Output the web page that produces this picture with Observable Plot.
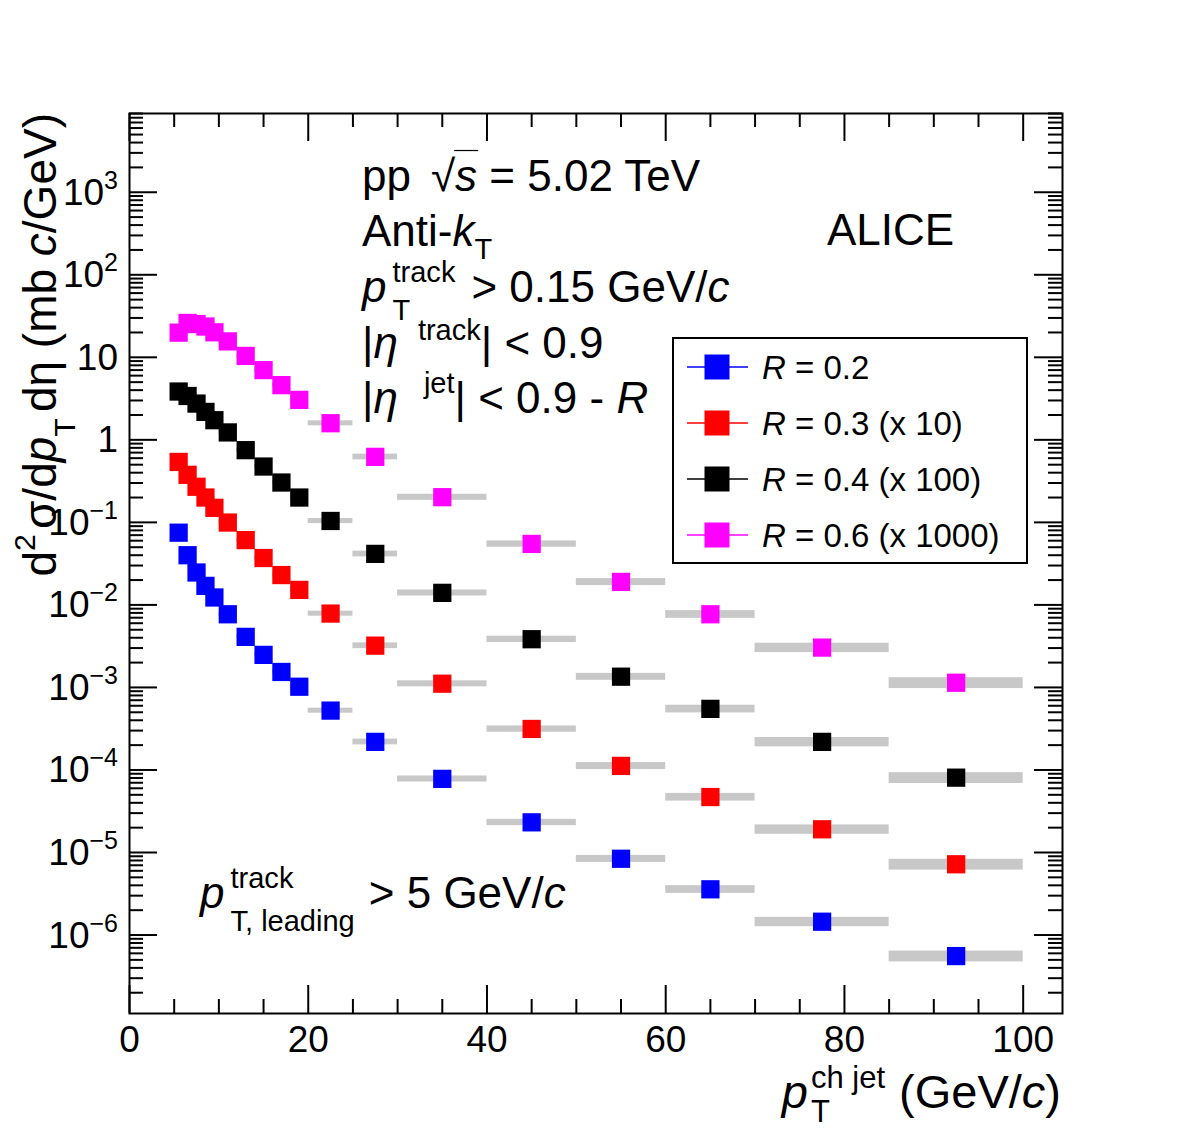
<!DOCTYPE html>
<html>
<head>
<meta charset="utf-8">
<script src="https://cdn.jsdelivr.net/npm/d3@7"></script>
<script src="https://cdn.jsdelivr.net/npm/@observablehq/plot@0.6"></script>
<style>
  body { margin: 0; background: #fff; }
  svg text { font-family: "Liberation Sans", Arial, Helvetica, sans-serif; }
</style>
</head>
<body>
<div id="chart"></div>
<script>
// Charged-jet cross sections, pp at 5.02 TeV, for several jet radii.
// Values are as drawn (R = 0.3 scaled x10, R = 0.4 x100, R = 0.6 x1000).
const binLo = [5, 6, 7, 8, 9, 10, 12, 14, 16, 18, 20, 25, 30, 40, 50, 60, 70, 85];
const binHi = [6, 7, 8, 9, 10, 12, 14, 16, 18, 20, 25, 30, 40, 50, 60, 70, 85, 100];
// relative systematic uncertainty (grey boxes)
const sysRel = [0.06, 0.06, 0.06, 0.06, 0.06, 0.06, 0.06, 0.06, 0.06, 0.06, 0.07, 0.08, 0.084, 0.088, 0.097, 0.107, 0.13, 0.15];

const seriesNames = ["R = 0.2", "R = 0.3 (x 10)", "R = 0.4 (x 100)", "R = 0.6 (x 1000)"];
const seriesColors = ["#0000ff", "#ff0000", "#000000", "#ff00ff"];
const r02 = [0.075, 0.040, 0.0247, 0.017, 0.0123, 0.0077, 0.0041, 0.00248, 0.00154, 0.00102, 0.000524, 0.000219, 7.8e-5, 2.32e-5, 8.4e-6, 3.58e-6, 1.45e-6, 5.56e-7];
const r03 = [0.54, 0.377, 0.27, 0.20, 0.15, 0.0995, 0.061, 0.037, 0.023, 0.0152, 0.00785, 0.00321, 0.00111, 0.000314, 0.000112, 4.7e-5, 1.91e-5, 7.2e-6];
const r04 = [3.85, 3.4, 2.75, 2.18, 1.73, 1.23, 0.75, 0.475, 0.304, 0.20, 0.104, 0.0415, 0.014, 0.00384, 0.00135, 0.00055, 0.000219, 8.07e-5];
const r06 = [19.9, 26.1, 25.3, 23.6, 20.1, 15.6, 10.4, 7.0, 4.6, 3.05, 1.59, 0.622, 0.202, 0.0548, 0.019, 0.0077, 0.00304, 0.00114];

const xMajorTicks = [0, 20, 40, 60, 80, 100];
const xMinorTicks = d3.range(5, 100, 5).filter(v => v % 20 !== 0);
const yDecades = d3.range(-7, 4);

// layout
const W = 1182, H = 1128;
const mL = 129, mR = 120, mT = 113, mB = 115;
const plotW = W - mL - mR, plotH = H - mT - mB;
const yDomain = [1.12e-7, 9.0e3];
const yMajorTicks = yDecades.map(k => 10 ** k).filter(v => v >= yDomain[0] && v <= yDomain[1]);
const yMinorTicks = yDecades.flatMap(k => d3.range(2, 10).map(m => m * 10 ** k)).filter(v => v >= yDomain[0] && v <= yDomain[1]);

// tidy table
const allSeries = [r02, r03, r04, r06];
const rows = allSeries.flatMap((vals, s) => vals.map((v, i) => ({
  series: seriesNames[s], lo: binLo[i], hi: binHi[i], x: (binLo[i] + binHi[i]) / 2,
  y: v, ylo: v * (1 - sysRel[i]), yhi: v * (1 + sysRel[i])
})));

const majorLen = 28, minorLen = 14;
const tickStyle = {stroke: "black", strokeWidth: 2};

const plot = Plot.plot({
  width: W, height: H,
  marginLeft: mL, marginRight: mR, marginTop: mT, marginBottom: mB,
  style: {fontFamily: "Liberation Sans, Arial, sans-serif", fontSize: "37px", background: "white", color: "black"},
  x: {domain: [0, 104.4], axis: null},
  y: {type: "log", domain: yDomain, axis: null},
  color: {domain: seriesNames, range: seriesColors},
  marks: [
    // systematic boxes
    Plot.rect(rows, {x1: "lo", x2: "hi", y1: "ylo", y2: "yhi", fill: "#c8c8c8"}),
    // data points
    Plot.dot(rows, {x: "x", y: "y", symbol: "square", r: 10.3, fill: "series", stroke: null}),
    // inward ticks on all four sides
    Plot.ruleX(xMajorTicks, {x: d => d, insetTop: plotH - majorLen, ...tickStyle}),
    Plot.ruleX(xMinorTicks, {x: d => d, insetTop: plotH - minorLen, ...tickStyle}),
    Plot.ruleX(xMajorTicks, {x: d => d, insetBottom: plotH - majorLen, ...tickStyle}),
    Plot.ruleX(xMinorTicks, {x: d => d, insetBottom: plotH - minorLen, ...tickStyle}),
    Plot.ruleY(yMajorTicks, {y: d => d, insetRight: plotW - majorLen, ...tickStyle}),
    Plot.ruleY(yMinorTicks, {y: d => d, insetRight: plotW - minorLen, ...tickStyle}),
    Plot.ruleY(yMajorTicks, {y: d => d, insetLeft: plotW - majorLen, ...tickStyle}),
    Plot.ruleY(yMinorTicks, {y: d => d, insetLeft: plotW - minorLen, ...tickStyle}),
    Plot.frame({stroke: "black", strokeWidth: 2}),
    Plot.axisX(xMajorTicks, {tickSize: 0, tickPadding: 12, fontSize: 37, label: null, tickFormat: d => String(d)})
  ]
});

document.getElementById("chart").append(plot);
const svg = d3.select(plot);
const yScale = plot.scale("y");

// rich text: sequential pieces with italic, superscript, subscript and stacked sup/sub
function rich(parent, parts, {x = 0, y = 0, size = 44, anchor = "start", rotate = 0, supShift = 0.45, subShift = 0.52, small = 0.66} = {}) {
  const g = parent.append("g").attr("text-anchor", "start");
  let cx = 0;
  const put = (t, px, py, fs, it) => {
    const el = g.append("text").attr("x", px).attr("y", py).attr("font-size", fs)
      .attr("text-anchor", "start")
      .attr("font-style", it ? "italic" : null).attr("fill", "black").text(t);
    return el.node().getComputedTextLength();
  };
  for (const p of parts) {
    if (p.gap) { cx += p.gap; continue; }
    if (p.stack) {
      let w = 0;
      if (p.sup) w = Math.max(w, put(p.sup, cx, -supShift * size, size * small, false));
      if (p.sub) w = Math.max(w, put(p.sub, cx, (p.subShift ?? subShift) * size, size * small, false));
      cx += w; continue;
    }
    if (p.sqrt) {
      const w1 = put("√", cx, 0, size, false);
      const w2 = put(p.sqrt, cx + w1, 0, size, true);
      g.append("line").attr("x1", cx + w1 - 1).attr("x2", cx + w1 + w2 + 1)
        .attr("y1", -0.92 * size).attr("y2", -0.92 * size).attr("stroke", "black").attr("stroke-width", 1.2);
      cx += w1 + w2; continue;
    }
    if (p.sup) { cx += put(p.sup, cx, -(p.shift ?? supShift) * size, size * small, false); continue; }
    if (p.sub) { cx += put(p.sub, cx, (p.shift ?? subShift) * size, size * small, false); continue; }
    cx += put(p.t, cx, 0, size, p.it);
  }
  const shift = anchor === "end" ? -cx : 0;
  g.attr("transform", `translate(${x},${y}) rotate(${rotate}) translate(${shift},0)`);
  return cx;
}

// y tick labels (powers of ten)
const minus = "\u2212";
for (const v of yMajorTicks) {
  const k = Math.round(Math.log10(v));
  const t = svg.append("text").attr("x", 118).attr("y", yScale.apply(v) + 13)
    .attr("text-anchor", "end").attr("font-size", 37).attr("fill", "black");
  if (k === 0) t.text("1");
  else if (k === 1) t.text("10");
  else {
    t.append("tspan").text("10");
    t.append("tspan").attr("font-size", 25).attr("dy", -16).text(k < 0 ? minus + (-k) : String(k));
  }
}

// axis titles
rich(svg, [
  {t: "d"}, {sup: "2"}, {gap: 5}, {t: "σ/d"}, {t: "p", it: true}, {sub: "T", shift: 0.42}, {gap: 6}, {t: "dη (mb "}, {t: "c", it: true}, {t: "/GeV)"}
], {x: 56, y: 113, size: 46, anchor: "end", rotate: -90});

rich(svg, [
  {t: "p", it: true}, {gap: 3}, {stack: true, sup: "ch jet", sub: "T"}, {gap: 14}, {t: "(GeV/"}, {t: "c", it: true}, {t: ")"}
], {x: 1061, y: 1108, size: 47, anchor: "end", supShift: 0.43, subShift: 0.3});

// annotations
const fsA = 44;
rich(svg, [{t: "pp"}, {gap: 20}, {sqrt: "s"}, {t: " = 5.02 TeV"}], {x: 362, y: 191, size: fsA});
rich(svg, [{t: "Anti-"}, {t: "k", it: true}, {sub: "T", shift: 0.3}], {x: 362, y: 246, size: fsA});
rich(svg, [{t: "p", it: true}, {gap: 6}, {stack: true, sup: "track", sub: "T"}, {gap: 16}, {t: "> 0.15 GeV/"}, {t: "c", it: true}],
  {x: 362, y: 302, size: fsA, subShift: 0.42});
rich(svg, [{t: "|"}, {t: "η", it: true}, {gap: 20}, {sup: "track", shift: 0.42}, {t: "| < 0.9"}], {x: 362, y: 358, size: fsA});
rich(svg, [{t: "|"}, {t: "η", it: true}, {gap: 26}, {sup: "jet"}, {t: "| < 0.9 - "}, {t: "R", it: true}], {x: 362, y: 413, size: fsA});
rich(svg, [{t: "ALICE"}], {x: 827, y: 245, size: fsA});
rich(svg, [{t: "p", it: true}, {gap: 6}, {stack: true, sup: "track", sub: "T, leading"}, {gap: 14}, {t: "> 5 GeV/"}, {t: "c", it: true}],
  {x: 200, y: 908, size: fsA});

// legend
const leg = svg.append("g");
leg.append("rect").attr("x", 673).attr("y", 338).attr("width", 354).attr("height", 225)
  .attr("fill", "white").attr("stroke", "black").attr("stroke-width", 2);
seriesNames.forEach((name, i) => {
  const cy = 367 + i * 56;
  const c = seriesColors[i];
  leg.append("line").attr("x1", 687).attr("x2", 748).attr("y1", cy).attr("y2", cy).attr("stroke", c).attr("stroke-width", 1.5);
  leg.append("rect").attr("x", 717 - 12.5).attr("y", cy - 12.5).attr("width", 25).attr("height", 25).attr("fill", c);
  const [, rest] = name.split("R");
  rich(leg, [{t: "R", it: true}, {t: rest}], {x: 762, y: cy + 12, size: 33});
});
</script>
</body>
</html>
